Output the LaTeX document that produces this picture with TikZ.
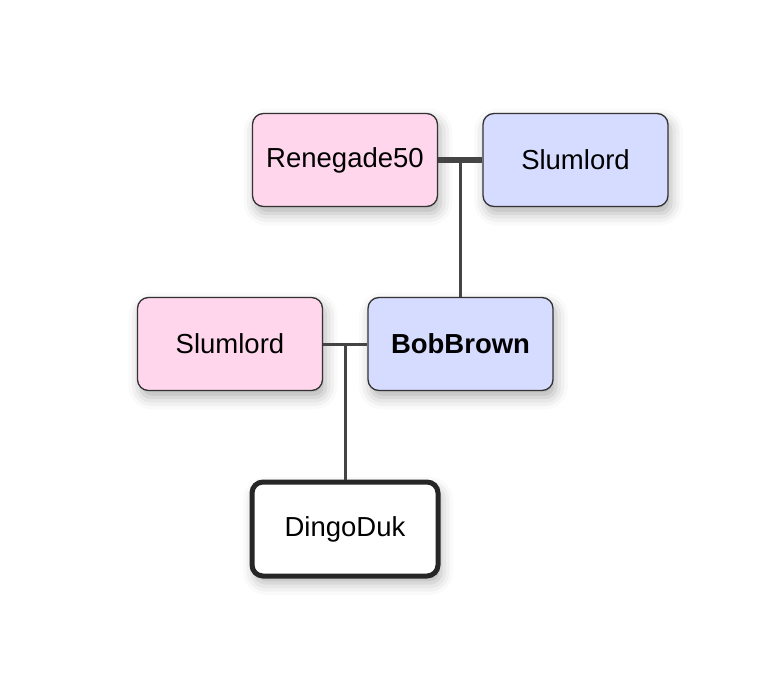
\documentclass[tikz,border=0pt]{standalone}
\usepackage{fontspec}
\setmainfont{Liberation Sans}
\usetikzlibrary{shadows.blur,calc}
\definecolor{pinkf}{RGB}{255,214,236}
\definecolor{bluef}{RGB}{214,220,255}
\definecolor{edgec}{RGB}{51,51,51}
\definecolor{linec}{RGB}{68,68,68}
\tikzset{
  person/.style={draw=edgec, line width=1.3pt, rounded corners=11pt,
    minimum width=185pt, minimum height=93pt, inner sep=0pt,
    font=\fontsize{27.5}{32}\selectfont,
    blur shadow={shadow xshift=3pt, shadow yshift=-7pt, shadow blur radius=12pt, shadow opacity=30}},
  female/.style={person, fill=pinkf},
  male/.style={person, fill=bluef},
  focus/.style={person, fill=white, draw=black!85, line width=5pt, minimum width=186pt, minimum height=94pt},
  couple/.style={draw=linec, line width=6pt},
  link/.style={draw=linec, line width=3pt},
}
\begin{document}
\begin{tikzpicture}[x=1pt,y=1pt]
\useasboundingbox (0,0) rectangle (774,-690);
\node[female] (ren) at (345,-160) {Renegade50};
\node[male] (slt) at (575.5,-160) {Slumlord};
\node[female] (slm) at (230,-344) {Slumlord};
\node[male] (bob) at (460.5,-344) {\textbf{BobBrown}};
\node[focus] (din) at (345,-529) {DingoDuk};
\coordinate (m1) at ($(ren.east)!0.5!(slt.west)$);
\coordinate (m2) at ($(slm.east)!0.5!(bob.west)$);
\draw[couple] (ren.east) -- (slt.west);
\draw[link] (m1) -- (m1 |- bob.north);
\draw[link] (slm.east) -- (bob.west);
\draw[link] (m2) -- (m2 |- din.north);
\end{tikzpicture}
\end{document}
